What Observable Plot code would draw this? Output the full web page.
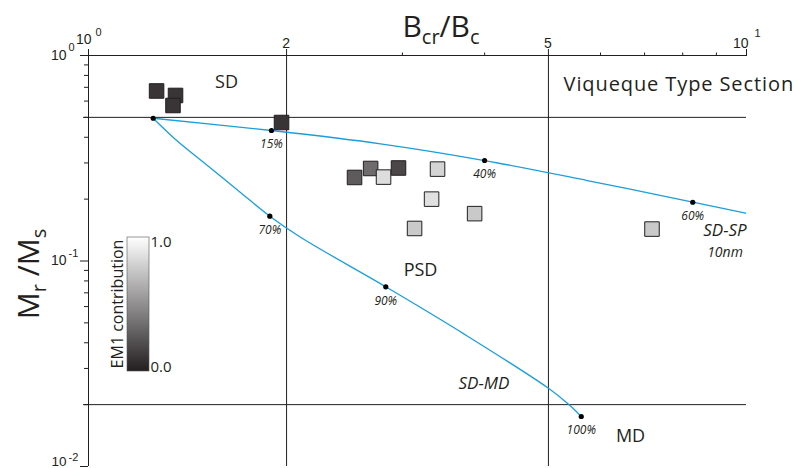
<!DOCTYPE html>
<html><head><meta charset="utf-8">
<script src="https://cdn.jsdelivr.net/npm/d3@7"></script>
<script src="https://cdn.jsdelivr.net/npm/@observablehq/plot@0.6"></script>
<style>
html,body{margin:0;padding:0;background:#fff;}
#chart{width:809px;height:468px;}
</style></head><body><div id="chart"></div>
<script>
// ---- data ----
const sampleBcrBc = [1.269, 1.356, 1.344, 1.965, 2.537, 2.684, 2.808, 2.959, 3.392, 3.322, 3.862, 3.130, 7.184];
const sampleMrMs  = [0.672, 0.639, 0.571, 0.472, 0.255, 0.282, 0.256, 0.2835, 0.280, 0.200, 0.170, 0.144, 0.143];
const sampleEM1   = [0.10, 0.10, 0.10, 0.10, 0.27, 0.34, 0.85, 0.18, 0.81, 0.86, 0.76, 0.76, 0.76];

const sdspBcrBc = [1.254, 1.897, 2.778, 3.999, 5.727, 8.285, 9.97];
const sdspMrMs  = [0.495, 0.4315, 0.3718, 0.3083, 0.2464, 0.1932, 0.1708];

const sdmdBcrBc = [1.254, 1.356, 1.516, 1.702, 1.886, 2.100, 2.830, 3.719, 4.989, 5.370, 5.609];
const sdmdMrMs  = [0.495, 0.3903, 0.2915, 0.2154, 0.1652, 0.1305, 0.0749, 0.0442, 0.02415, 0.02003, 0.01751];

const mixLabel = ["", "15%", "40%", "60%", "70%", "90%", "100%"];
const mixBcrBc = [1.254, 1.897, 3.999, 8.285, 1.886, 2.830, 5.609];
const mixMrMs  = [0.495, 0.4315, 0.3083, 0.1932, 0.1652, 0.0749, 0.01751];

const boundaryBcrBc = [2, 5];
const boundaryMrMs  = [0.5, 0.02];

const xTicksMajor = [1, 2, 5, 10];
const xTicksMinor = [3, 4, 6, 7, 8, 9];
const yTicksMajor = [0.01, 0.1, 1];
const yTicksMinor = [0.02, 0.03, 0.04, 0.05, 0.06, 0.07, 0.08, 0.09, 0.2, 0.3, 0.4, 0.5, 0.6, 0.7, 0.8, 0.9];

const regionText  = ["SD", "PSD", "MD"];
const regionBcrBc = [1.621, 3.196, 6.664];
const regionMrMs  = [0.739, 0.0899, 0.0140];

const italicText  = ["SD-SP", "SD-MD"];
const italicBcrBc = [9.275, 3.990];
const italicMrMs  = [0.140, 0.02535];

const sizeText = "10nm"; const sizeBcrBc = 9.275; const sizeMrMs = 0.110;
const titleText = "Viqueque Type Section"; const titleBcrBc = 5.272; const titleMrMs = 0.7226;

// ---- build tables ----
const samples = sampleBcrBc.map((x, i) => ({x, y: sampleMrMs[i], em1: sampleEM1[i]}));
const sdsp = sdspBcrBc.map((x, i) => ({x, y: sdspMrMs[i]}));
const sdmd = sdmdBcrBc.map((x, i) => ({x, y: sdmdMrMs[i]}));
const mix = mixBcrBc.map((x, i) => ({x, y: mixMrMs[i], t: mixLabel[i]}));
const regions = regionText.map((t, i) => ({t, x: regionBcrBc[i], y: regionMrMs[i]}));
const italics = italicText.map((t, i) => ({t, x: italicBcrBc[i], y: italicMrMs[i]}));

const ink = "#231f20";
const cyan = "#1a9fda";
const sans = "'Open Sans', 'Noto Sans', sans-serif";
const tickFont = "'Liberation Sans', Arial, sans-serif";

const plot = Plot.plot({
  width: 809, height: 468,
  marginLeft: 88, marginRight: 63, marginTop: 55, marginBottom: 2,
  x: {type: "log", domain: [1, 10], axis: null, label: null},
  y: {type: "log", domain: [0.01, 1], axis: null, label: null},
  color: {type: "linear", domain: [0, 1], range: [ink, "#ffffff"]},
  style: {fontFamily: tickFont, color: ink, background: "#fff", overflow: "visible"},
  marks: [
    // frame and boundaries
    Plot.ruleY([1], {x1: 1, x2: 10, stroke: ink}),
    Plot.ruleX([1], {y1: 0.01, y2: 1, stroke: ink}),
    Plot.ruleX(boundaryBcrBc, {y1: 0.01, y2: 1, stroke: ink}),
    Plot.ruleY(boundaryMrMs, {x1: 1, x2: 10, insetLeft: -5, stroke: ink}),
    // ticks
    Plot.axisX({anchor: "top", ticks: xTicksMinor, tickSize: 3.5, tickFormat: () => "", label: null, stroke: ink}),
    Plot.axisX({anchor: "top", ticks: xTicksMajor, tickSize: 7, tickFormat: () => "", label: null, stroke: ink}),
    Plot.axisY({anchor: "left", ticks: yTicksMinor, tickSize: 4, tickFormat: () => "", label: null, stroke: ink}),
    Plot.axisY({anchor: "left", ticks: yTicksMajor, tickSize: 8, tickFormat: () => "", label: null, stroke: ink}),
    // x tick labels
    Plot.text([1], {x: d => d, frameAnchor: "top", text: () => "10", textAnchor: "end", lineAnchor: "bottom", dx: 3, dy: -12, fontSize: 14, fill: ink}),
    Plot.text([1], {x: d => d, frameAnchor: "top", text: () => "0", textAnchor: "start", lineAnchor: "bottom", dx: 7, dy: -20, fontSize: 11, fill: ink}),
    Plot.text([2, 5], {x: d => d, frameAnchor: "top", text: d => String(d), textAnchor: "middle", lineAnchor: "bottom", dx: -0.5, dy: -8, fontSize: 14, fill: ink}),
    Plot.text([10], {x: d => d, frameAnchor: "top", text: () => "10", textAnchor: "end", lineAnchor: "bottom", dx: 2, dy: -8, fontSize: 14, fill: ink}),
    Plot.text([10], {x: d => d, frameAnchor: "top", text: () => "1", textAnchor: "start", lineAnchor: "bottom", dx: 8, dy: -19, fontSize: 11, fill: ink}),
    // y tick labels
    Plot.text(yTicksMajor.filter(d => d > 0.01), {y: d => d, frameAnchor: "left", text: () => "10", textAnchor: "end", lineAnchor: "bottom", dx: -22, dy: 4, fontSize: 14, fill: ink}),
    Plot.text(yTicksMajor.filter(d => d <= 0.01), {y: d => d, frameAnchor: "left", text: () => "10", textAnchor: "end", lineAnchor: "bottom", dx: -22, dy: -0.5, fontSize: 13.5, fill: ink}),
    Plot.text(yTicksMajor.filter(d => d > 0.01), {y: d => d, frameAnchor: "left", text: d => String(Math.round(Math.log10(d))), textAnchor: "start", lineAnchor: "bottom", dx: -20, dy: -4.5, fontSize: 11, fill: ink}),
    Plot.text(yTicksMajor.filter(d => d <= 0.01), {y: d => d, frameAnchor: "left", text: d => String(Math.round(Math.log10(d))), textAnchor: "start", lineAnchor: "bottom", dx: -20, dy: -5.5, fontSize: 11, fill: ink}),
    // mixing curves
    Plot.line(sdsp, {x: "x", y: "y", stroke: cyan, strokeWidth: 1.3, curve: "catmull-rom"}),
    Plot.line(sdmd, {x: "x", y: "y", stroke: cyan, strokeWidth: 1.3, curve: "catmull-rom"}),
    Plot.dot(mix, {x: "x", y: "y", r: 2.6, fill: "#000", stroke: null}),
    Plot.text(mix, {x: "x", y: "y", text: "t", dy: 14, fontSize: 12, fontStyle: "italic", fontFamily: sans, fill: ink}),
    // samples
    Plot.dot(samples, {x: "x", y: "y", fill: "em1", symbol: "square", r: 8.2, stroke: ink, strokeWidth: 1}),
    // region annotations
    Plot.text(regions, {x: "x", y: "y", text: "t", fontSize: 18, fontFamily: sans, fill: ink}),
    Plot.text(italics, {x: "x", y: "y", text: "t", fontSize: 17, fontStyle: "italic", fontFamily: sans, fill: ink}),
    Plot.text([sizeText], {x: () => sizeBcrBc, y: () => sizeMrMs, text: d => d, fontSize: 14, fontStyle: "italic", fontFamily: sans, fill: ink}),
    Plot.text([titleText], {x: () => titleBcrBc, y: () => titleMrMs, text: d => d, textAnchor: "start", fontSize: 20, fontFamily: sans, fill: ink})
  ]
});

document.getElementById("chart").appendChild(plot);

const svg = d3.select(plot);
svg.selectAll("text").filter(function() { return this.textContent === titleText; }).attr("letter-spacing", "0.9px");

// colour bar legend (EM1 contribution)
const colorScale = plot.scale("color");
const grad = svg.append("defs").append("linearGradient").attr("id", "em1grad")
  .attr("x1", 0).attr("y1", 1).attr("x2", 0).attr("y2", 0);
d3.range(0, 1.0001, 0.1).forEach(t => grad.append("stop").attr("offset", t).attr("stop-color", colorScale.apply(t)));
svg.append("rect").attr("x", 127).attr("y", 237).attr("width", 22).attr("height", 134)
  .attr("fill", "url(#em1grad)").attr("stroke", "#555").attr("stroke-width", 0.6);
const legFont = "'Open Sans', 'Noto Sans', sans-serif";
svg.append("text").attr("x", 161).attr("y", 247).attr("font-family", legFont).attr("font-size", 15).attr("fill", ink).text(colorScale.domain[1].toFixed(1));
svg.append("text").attr("x", 161).attr("y", 371.5).attr("font-family", legFont).attr("font-size", 15).attr("fill", ink).text(colorScale.domain[0].toFixed(1));
svg.append("text").attr("transform", "translate(123,304) rotate(-90)").attr("text-anchor", "middle")
  .attr("font-family", legFont).attr("font-size", 16).attr("fill", ink).text("EM1 contribution");

// axis titles with subscripts
const xt = svg.append("text").attr("x", 441).attr("y", 37).attr("text-anchor", "middle")
  .attr("font-family", legFont).attr("font-size", 30).attr("fill", ink);
xt.append("tspan").text("B");
xt.append("tspan").attr("font-size", 20).attr("dy", 7).text("cr");
xt.append("tspan").attr("dy", -7).text("/B");
xt.append("tspan").attr("font-size", 20).attr("dy", 7).text("c");

const yt = svg.append("text").attr("transform", "translate(39,274) rotate(-90)").attr("text-anchor", "middle")
  .attr("font-family", legFont).attr("font-size", 30).attr("fill", ink);
yt.append("tspan").text("M");
yt.append("tspan").attr("font-size", 20).attr("dy", 7).text("r");
yt.append("tspan").attr("dy", -7).text(" /M");
yt.append("tspan").attr("font-size", 20).attr("dy", 7).text("s");
</script>
</body></html>
